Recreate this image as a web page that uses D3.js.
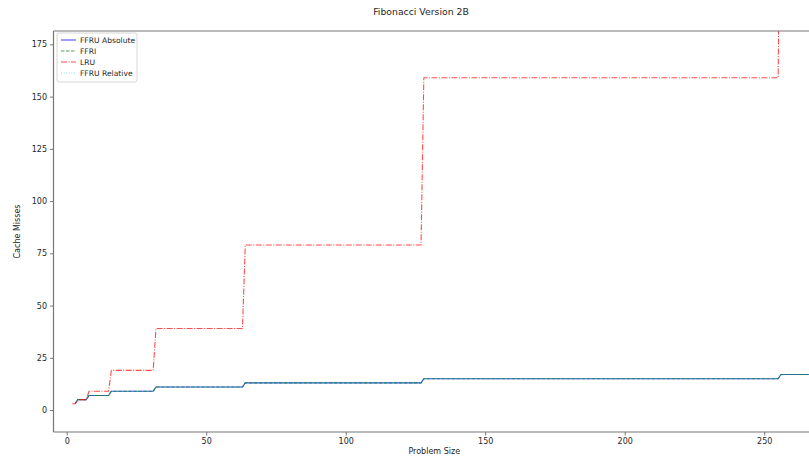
<!DOCTYPE html>
<html>
<head>
<meta charset="utf-8">
<script src="https://cdn.jsdelivr.net/npm/d3@7"></script>
<style>
  body { margin: 0; background: #fff; }
  text { font-family: "DejaVu Sans", sans-serif; fill: #262626; }
</style>
</head>
<body>
<svg id="chart" width="809" height="458"></svg>
<script>
// step corners (problem size -> cache misses)
const problemSizes = [2, 3, 4, 7, 8, 15, 16, 31, 32, 63, 64, 127, 128, 255, 256, 290];
const ffruAbsolute = [null, 3, 5, 5, 7, 7, 9, 9, 11, 11, 13, 13, 15, 15, 17, 17];
const ffri         = [null, 3, 5, 5, 7, 7, 9, 9, 11, 11, 13, 13, 15, 15, 17, 17];
const lru          = [3, 3, 5, 5, 9, 9, 19, 19, 39, 39, 79, 79, 159, 159, 319, 319];
const ffruRelative = [null, 3, 5, 5, 7, 7, 9, 9, 11, 11, 13, 13, 15, 15, 17, 17];

const seriesNames = ["FFRU Absolute", "FFRI", "LRU", "FFRU Relative"];
const xTicks = [0, 50, 100, 150, 200, 250];
const yTicks = [0, 25, 50, 75, 100, 125, 150, 175];

let series = [
  { name: seriesNames[0], values: ffruAbsolute, color: "#0000ff", opacity: 0.7, dash: null },
  { name: seriesNames[1], values: ffri, color: "#008000", opacity: 0.7, dash: "3.5,1.5" },
  { name: seriesNames[2], values: lru, color: "#ff0000", opacity: 0.7, dash: "6,1.5,1,1.5" },
  { name: seriesNames[3], values: ffruRelative, color: "#00bfbf", opacity: 0.45, dash: "1,1.6" }
];

let svg = d3.select("#chart");

let plotLeft = 53.5, plotRight = 815, plotTop = 31, plotBottom = 432;

let xScale = d3.scaleLinear().domain([-4.73, 268.2]).range([plotLeft, plotRight]);
let yScale = d3.scaleLinear().domain([-10.5, 181.4]).range([plotBottom, plotTop]);

svg.append("clipPath")
  .attr("id", "plotClip")
  .append("rect")
  .attr("x", plotLeft)
  .attr("y", plotTop)
  .attr("width", plotRight - plotLeft)
  .attr("height", plotBottom - plotTop);

let lineGenerator = d3.line()
  .defined(d => d[1] !== null)
  .x(d => xScale(d[0]))
  .y(d => yScale(d[1]));

let lines = svg.append("g").attr("clip-path", "url(#plotClip)");

lines.selectAll("path")
  .data(series)
  .join("path")
  .attr("d", s => lineGenerator(problemSizes.map((x, i) => [x, s.values[i]])))
  .attr("fill", "none")
  .attr("stroke", s => s.color)
  .attr("stroke-opacity", s => s.opacity)
  .attr("stroke-width", 1.1)
  .attr("stroke-dasharray", s => s.dash);

// axes
let xAxis = d3.axisBottom(xScale).tickValues(xTicks).tickSize(3.5).tickPadding(3);
let yAxis = d3.axisLeft(yScale).tickValues(yTicks).tickSize(3.5).tickPadding(3);

let gx = svg.append("g").attr("transform", `translate(0, ${plotBottom})`).call(xAxis);
let gy = svg.append("g").attr("transform", `translate(${plotLeft}, 0)`).call(yAxis);

for (let g of [gx, gy]) {
  g.select(".domain").remove();
  g.selectAll(".tick line").attr("stroke", "#666").attr("stroke-width", 0.9);
  g.selectAll(".tick text").attr("font-size", 8).attr("fill", "#262626");
}

// spines (right spine falls outside the picture)
let spines = svg.append("g").attr("stroke", "#777").attr("stroke-width", 1.2);
spines.append("line").attr("x1", plotLeft).attr("x2", plotRight).attr("y1", plotBottom).attr("y2", plotBottom);
spines.append("line").attr("x1", plotLeft).attr("x2", plotRight).attr("y1", plotTop).attr("y2", plotTop);
spines.append("line").attr("x1", plotLeft).attr("x2", plotLeft).attr("y1", plotTop).attr("y2", plotBottom);

svg.append("text")
  .attr("x", 421)
  .attr("y", 15)
  .attr("text-anchor", "middle")
  .attr("font-size", 9.3)
  .text("Fibonacci Version 2B");

svg.append("text")
  .attr("x", (plotLeft + plotRight) / 2)
  .attr("y", 454)
  .attr("text-anchor", "middle")
  .attr("font-size", 8)
  .text("Problem Size");

svg.append("text")
  .attr("transform", `translate(20, ${(plotTop + plotBottom) / 2}) rotate(-90)`)
  .attr("text-anchor", "middle")
  .attr("font-size", 8)
  .text("Cache Misses");

// legend
let legend = svg.append("g").attr("transform", "translate(57, 33)");

legend.append("rect")
  .attr("width", 80)
  .attr("height", 49)
  .attr("rx", 2)
  .attr("fill", "#fff")
  .attr("fill-opacity", 0.8)
  .attr("stroke", "#ccc")
  .attr("stroke-width", 0.8);

let items = legend.selectAll(".item")
  .data(series)
  .join("g")
  .attr("class", "item")
  .attr("transform", (d, i) => `translate(0, ${7 + i * 11})`);

items.append("line")
  .attr("x1", 4)
  .attr("x2", 19)
  .attr("stroke", d => d.color)
  .attr("stroke-opacity", d => d.opacity)
  .attr("stroke-width", 1.1)
  .attr("stroke-dasharray", d => d.dash);

items.append("text")
  .attr("x", 23)
  .attr("y", 3)
  .attr("font-size", 7.6)
  .text(d => d.name);
</script>
</body>
</html>
